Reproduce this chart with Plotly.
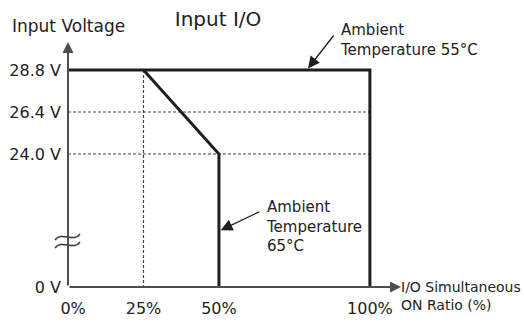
import plotly.graph_objects as go

# ---- data ----
ratio_55 = [0, 100, 100]
volt_55 = [28.8, 28.8, 0]
ratio_65 = [25, 50, 50]
volt_65 = [28.8, 24.0, 0]
guide_h_volts = [26.4, 24.0]
guide_h_ratio = [0, 100]
guide_v_ratio = 25
guide_v_volts = [28.8, 0]
x_ticks = [0, 25, 50, 100]
x_ticktext = ["\u00a0\u00a00%", "25%", "50%", "100%"]
y_ticks = [28.8, 26.4, 24.0, 0]
y_ticktext = ["28.8 V", "26.4 V", "24.0 V", "0 V"]

# broken y axis: values below 24 V are compressed
BREAK_BASE = 16.4
def disp(v):
    return v if v >= 24 else BREAK_BASE + v * (24 - BREAK_BASE) / 24

FONT = "DejaVu Sans"
TXT = "#222222"
LINE = "#1e1e1e"
AXC = "#4d4d4d"
XMAX = 110.3
YMAX = 30.4

fig = go.Figure()
# dotted guides
for v in guide_h_volts:
    fig.add_trace(go.Scatter(x=guide_h_ratio, y=[disp(v)] * 2, mode="lines",
                             line=dict(color="#444444", width=1.2, dash="3px,2px"),
                             hoverinfo="skip"))
fig.add_trace(go.Scatter(x=[guide_v_ratio] * 2, y=[disp(v) for v in guide_v_volts], mode="lines",
                         line=dict(color="#444444", width=1.2, dash="3px,2px"), hoverinfo="skip"))
# main lines
fig.add_trace(go.Scatter(x=ratio_55, y=[disp(v) for v in volt_55], mode="lines",
                         line=dict(color=LINE, width=3)))
fig.add_trace(go.Scatter(x=ratio_65, y=[disp(v) for v in volt_65], mode="lines",
                         line=dict(color=LINE, width=3)))

ann = []
# axis arrows
ann.append(dict(x=0, y=YMAX, ax=0, ay=BREAK_BASE, xref="x", yref="y", axref="x", ayref="y",
                text="", showarrow=True, arrowhead=2, arrowwidth=2, arrowsize=1.1, arrowcolor=AXC))
ann.append(dict(x=XMAX, y=BREAK_BASE, ax=0, ay=BREAK_BASE, xref="x", yref="y", axref="x", ayref="y",
                text="", showarrow=True, arrowhead=2, arrowwidth=2, arrowsize=1.1, arrowcolor=AXC))
# pointer arrows
ann.append(dict(x=79.1, y=disp(28.8), ax=28, ay=-36, xref="x", yref="y",
                text="", showarrow=True, arrowhead=2, arrowwidth=1.3, arrowsize=1.8,
                arrowcolor=LINE, standoff=2))
ann.append(dict(x=50, y=19.6, ax=42, ay=-20, xref="x", yref="y",
                text="", showarrow=True, arrowhead=2, arrowwidth=1.3, arrowsize=1.8,
                arrowcolor=LINE, standoff=2))
# texts
PW, PH = 333, 245
def px(xp):
    return (xp - 68) / PW
def py(yp):
    return (287 - yp) / PH
ann.append(dict(x=px(338), y=py(40), xref="paper", yref="paper", xanchor="left", yanchor="middle",
                align="left", showarrow=False, text="Ambient<br>Temperature 55°C",
                font=dict(family=FONT, size=15, color=TXT)))
ann.append(dict(x=px(264), y=py(226), xref="paper", yref="paper", xanchor="left", yanchor="middle",
                align="left", showarrow=False, text="Ambient<br>Temperature<br>65°C",
                font=dict(family=FONT, size=15, color=TXT)))
ann.append(dict(x=px(399), y=py(296), xref="paper", yref="paper", xanchor="left", yanchor="middle",
                align="left", showarrow=False, text="I/O Simultaneous<br>ON Ratio (%)",
                font=dict(family=FONT, size=14, color=TXT)))
ann.append(dict(x=px(68), y=py(26), xref="paper", yref="paper", xanchor="center", yanchor="middle",
                showarrow=False, text="Input Voltage",
                font=dict(family=FONT, size=17, color=TXT)))

# axis-break mark (two small waves across the y axis)
def wave(yc):
    return (f"M{px(55):.4f},{py(yc + 3):.4f} "
            f"C{px(61):.4f},{py(yc - 6):.4f} {px(74):.4f},{py(yc + 6):.4f} {px(80):.4f},{py(yc - 3):.4f}")

fig.update_layout(
    width=524, height=322,
    margin=dict(l=68, r=524 - 68 - PW, t=42, b=322 - 42 - PH, pad=0, autoexpand=False),
    paper_bgcolor="white", plot_bgcolor="white",
    showlegend=False,
    title=dict(text="Input I/O", x=218 / 524, xref="container", xanchor="center",
               y=1 - 19 / 322, yref="container", yanchor="middle",
               font=dict(family=FONT, size=20, color=TXT)),
    xaxis=dict(range=[0, XMAX], showgrid=False, zeroline=False, showline=False,
               automargin=False,
               tickvals=x_ticks, ticktext=x_ticktext, ticks="", ticklabelstandoff=10,
               tickfont=dict(family=FONT, size=16, color=TXT), fixedrange=True),
    yaxis=dict(range=[BREAK_BASE, YMAX], showgrid=False, zeroline=False, showline=False,
               automargin=False,
               tickvals=[disp(v) for v in y_ticks], ticktext=y_ticktext, ticks="",
               ticklabelstandoff=6,
               tickfont=dict(family=FONT, size=16, color=TXT), fixedrange=True),
    annotations=ann,
    shapes=[dict(type="path", xref="paper", yref="paper", layer="above",
                 path=wave(237) + " " + wave(245),
                 line=dict(color="#333333", width=1.4))],
)

fig.write_html("out.html", config={"displayModeBar": False},
               post_script="document.body.style.margin='0';document.body.style.overflow='hidden';")
